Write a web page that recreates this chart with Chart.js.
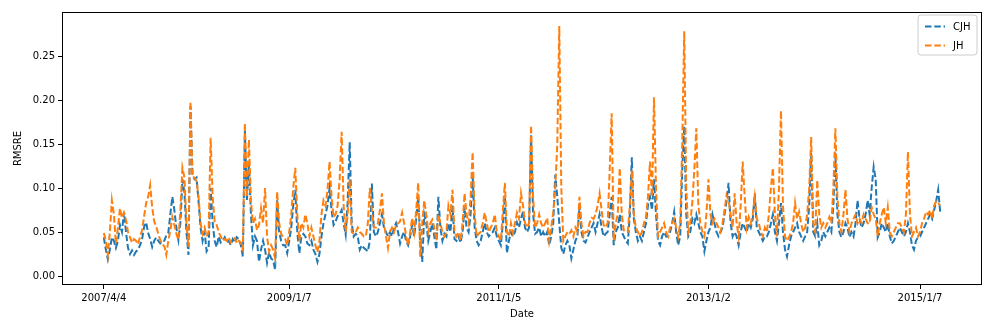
<!DOCTYPE html>
<html><head><meta charset="utf-8">
<script src="https://cdn.jsdelivr.net/npm/chart.js@4"></script>
<style>html,body{margin:0;padding:0;background:#fff;}#wrap{width:997px;height:332px;position:relative;}</style>
</head><body><div id="wrap"><canvas id="c" width="997" height="332"></canvas></div>
<script>
const startDate = '2007/4/4';
const tickLabels = ['2007/4/4','2009/1/7','2011/1/5','2013/1/2','2015/1/7'];
const yTicks = [0, 0.05, 0.10, 0.15, 0.20, 0.25];
const seriesNames = ['CJH', 'JH'];
const cjh = [
.044,.030,.019,.030,.044,.040,.032,.040,.058,.050,
.073,.050,.032,.025,.029,.024,.028,.030,.035,.042,
.056,.061,.049,.042,.033,.040,.044,.040,.037,.040,
.040,.046,.049,.070,.090,.075,.055,.041,.060,.110,
.095,.050,.024,.193,.115,.110,.112,.085,.055,.040,
.050,.028,.032,.100,.060,.040,.033,.045,.038,.040,
.044,.038,.040,.035,.042,.038,.044,.042,.035,.022,
.165,.085,.130,.070,.035,.045,.040,.016,.030,.040,
.030,.015,.027,.020,.018,.007,.086,.050,.040,.035,
.035,.026,.040,.055,.080,.098,.050,.026,.045,.048,
.045,.037,.035,.040,.030,.025,.016,.025,.045,.060,
.070,.080,.100,.075,.058,.062,.068,.070,.075,.060,
.047,.085,.152,.060,.045,.048,.045,.030,.035,.032,
.030,.028,.040,.105,.050,.045,.050,.060,.070,.055,
.050,.045,.050,.045,.055,.060,.050,.037,.045,.050,
.040,.035,.045,.058,.045,.065,.090,.040,.016,.070,
.060,.040,.050,.060,.045,.030,.090,.055,.040,.048,
.045,.060,.050,.080,.042,.040,.045,.038,.050,.078,
.055,.050,.070,.117,.055,.040,.035,.040,.050,.060,
.050,.045,.048,.050,.055,.045,.040,.035,.060,.090,
.026,.040,.050,.045,.050,.061,.055,.065,.073,.055,
.050,.055,.160,.070,.048,.050,.055,.045,.050,.045,
.050,.035,.045,.060,.115,.090,.060,.032,.025,.035,
.040,.035,.020,.030,.040,.045,.080,.050,.040,.038,
.044,.050,.055,.060,.050,.060,.070,.055,.045,.048,
.050,.070,.090,.035,.050,.055,.070,.050,.045,.040,
.037,.070,.135,.065,.050,.040,.045,.040,.050,.060,
.080,.090,.075,.110,.070,.040,.035,.045,.050,.045,
.045,.050,.060,.073,.050,.035,.045,.120,.170,.070,
.045,.050,.065,.060,.070,.060,.050,.045,.028,.040,
.050,.055,.070,.060,.050,.045,.050,.055,.070,.085,
.106,.060,.045,.050,.045,.035,.050,.060,.055,.050,
.060,.055,.065,.094,.055,.050,.045,.040,.045,.045,
.050,.060,.070,.050,.040,.060,.083,.050,.030,.022,
.035,.045,.050,.055,.060,.050,.045,.040,.045,.050,
.080,.140,.050,.045,.060,.035,.040,.050,.045,.050,
.055,.050,.080,.140,.070,.050,.044,.050,.060,.055,
.044,.050,.045,.060,.086,.065,.055,.060,.070,.086,
.070,.100,.124,.110,.044,.050,.060,.055,.050,.060,
.045,.037,.040,.045,.050,.055,.050,.045,.050,.060,
.050,.035,.030,.040,.044,.045,.050,.055,.060,.065,
.070,.065,.075,.085,.098,.073
];
const jh = [
.049,.040,.024,.050,.086,.070,.037,.055,.077,.066,
.072,.064,.050,.044,.038,.042,.040,.036,.045,.052,
.068,.083,.090,.103,.078,.062,.056,.048,.041,.036,
.034,.024,.040,.052,.067,.058,.048,.041,.075,.123,
.112,.060,.033,.198,.112,.112,.108,.090,.060,.048,
.055,.045,.050,.157,.090,.062,.058,.050,.045,.040,
.042,.040,.044,.038,.040,.043,.037,.040,.038,.030,
.174,.090,.155,.085,.060,.065,.052,.058,.077,.060,
.100,.045,.028,.035,.030,.020,.096,.060,.048,.044,
.042,.035,.050,.070,.100,.123,.070,.040,.060,.055,
.070,.060,.045,.055,.045,.035,.027,.040,.070,.086,
.080,.098,.130,.090,.067,.070,.080,.109,.164,.080,
.050,.070,.110,.050,.048,.050,.055,.050,.048,.045,
.045,.060,.100,.075,.055,.055,.060,.075,.094,.060,
.045,.032,.050,.055,.050,.058,.060,.062,.072,.060,
.045,.035,.050,.066,.050,.075,.106,.022,.060,.086,
.070,.050,.060,.064,.055,.040,.070,.060,.050,.045,
.050,.080,.070,.098,.050,.045,.050,.040,.060,.094,
.070,.060,.090,.141,.070,.045,.048,.050,.060,.072,
.060,.050,.055,.060,.070,.050,.045,.040,.075,.106,
.050,.045,.060,.049,.060,.072,.065,.094,.080,.060,
.055,.060,.171,.090,.055,.060,.070,.060,.055,.060,
.066,.040,.055,.073,.100,.150,.284,.100,.040,.045,
.050,.048,.052,.045,.055,.050,.090,.060,.045,.050,
.050,.060,.066,.065,.070,.080,.094,.075,.058,.055,
.060,.120,.185,.040,.060,.070,.123,.070,.052,.050,
.050,.080,.120,.070,.055,.050,.045,.050,.060,.067,
.090,.130,.090,.203,.100,.045,.050,.055,.060,.050,
.045,.055,.060,.065,.055,.045,.060,.150,.278,.100,
.050,.060,.084,.120,.168,.080,.060,.050,.045,.070,
.110,.070,.060,.065,.060,.055,.050,.060,.075,.092,
.086,.070,.055,.094,.060,.045,.080,.130,.090,.055,
.067,.060,.070,.090,.065,.060,.050,.045,.055,.050,
.070,.100,.123,.070,.045,.100,.188,.080,.045,.040,
.044,.050,.060,.083,.065,.073,.060,.050,.055,.070,
.100,.158,.060,.050,.109,.070,.055,.060,.055,.060,
.067,.060,.100,.168,.090,.060,.050,.070,.098,.065,
.050,.060,.065,.070,.060,.065,.060,.070,.065,.060,
.060,.078,.070,.065,.045,.060,.070,.078,.060,.078,
.050,.045,.050,.055,.060,.060,.055,.050,.070,.141,
.070,.045,.050,.055,.045,.050,.060,.065,.073,.070,
.075,.065,.080,.085,.083,.080
];
const colors = ['#1f77b4', '#ff7f0e'];

function parseD(s){ const p = s.split('/').map(Number); return Date.UTC(p[0], p[1]-1, p[2]); }
const t0 = parseD(startDate);
const WEEK = 7*86400000;
const tickIdx = tickLabels.map(s => Math.round((parseD(s) - t0) / WEEK));
const nPts = cjh.length;
const span = nPts - 1;
const toXY = arr => arr.map((v, i) => ({x: i, y: v}));

const FONT = 'DejaVu Sans';
const LW = 2;
const DASH = [6.5, 2.8];

const framePlugin = {
  id: 'frame',
  afterDatasetsDraw(chart) {
    const ctx = chart.ctx, a = chart.chartArea;
    ctx.save();
    ctx.strokeStyle = '#000'; ctx.lineWidth = 1; ctx.setLineDash([]);
    ctx.strokeRect(Math.round(a.left) + 0.5, Math.round(a.top) + 0.5,
                   Math.round(a.right - a.left) - 1, Math.round(a.bottom - a.top) - 1);
    // legend
    const lx = 918, ly = 15, lw = 59, lh = 40, r = 3;
    ctx.beginPath();
    ctx.moveTo(lx + r, ly); ctx.lineTo(lx + lw - r, ly); ctx.quadraticCurveTo(lx + lw, ly, lx + lw, ly + r);
    ctx.lineTo(lx + lw, ly + lh - r); ctx.quadraticCurveTo(lx + lw, ly + lh, lx + lw - r, ly + lh);
    ctx.lineTo(lx + r, ly + lh); ctx.quadraticCurveTo(lx, ly + lh, lx, ly + lh - r);
    ctx.lineTo(lx, ly + r); ctx.quadraticCurveTo(lx, ly, lx + r, ly);
    ctx.closePath();
    ctx.fillStyle = 'rgba(255,255,255,0.8)'; ctx.fill();
    ctx.strokeStyle = '#cccccc'; ctx.stroke();
    ctx.font = '10px "' + FONT + '"';
    ctx.textBaseline = 'middle'; ctx.textAlign = 'left';
    seriesNames.forEach((name, k) => {
      const y = ly + 11 + k * 19;
      ctx.beginPath();
      ctx.setLineDash(DASH);
      ctx.strokeStyle = colors[k]; ctx.lineWidth = LW;
      ctx.moveTo(lx + 7, y + 0.5); ctx.lineTo(lx + 27, y + 0.5); ctx.stroke();
      ctx.setLineDash([]);
      ctx.fillStyle = '#000';
      ctx.fillText(name, lx + 35, y + 1);
    });
    ctx.restore();
  }
};

new Chart(document.getElementById('c'), {
  type: 'line',
  data: {
    datasets: [
      { label: seriesNames[0], data: toXY(cjh), borderColor: colors[0], borderWidth: LW,
        borderDash: DASH, pointRadius: 0, fill: false, tension: 0, order: 2 },
      { label: seriesNames[1], data: toXY(jh), borderColor: colors[1], borderWidth: LW,
        borderDash: DASH, pointRadius: 0, fill: false, tension: 0, order: 1 }
    ]
  },
  options: {
    responsive: false, animation: false, devicePixelRatio: 1,
    layout: { padding: { left: 0, top: 12, right: 15, bottom: 0 } },
    plugins: { legend: { display: false }, tooltip: { enabled: false } },
    scales: {
      x: {
        type: 'linear', min: -0.05 * span, max: span * 1.05,
        afterBuildTicks: s => { s.ticks = tickIdx.map(v => ({ value: v })); },
        afterFit: s => { s.height = 47; },
        ticks: { autoSkip: false, maxRotation: 0, padding: 3, color: '#000',
                 font: { family: FONT, size: 10 },
                 callback: v => { const k = tickIdx.indexOf(v); return k >= 0 ? tickLabels[k] : ''; } },
        grid: { display: true, drawOnChartArea: false, drawTicks: true, tickLength: 4, color: '#000' },
        border: { display: false },
        title: { display: true, text: 'Date', color: '#000', font: { family: FONT, size: 10 },
                 padding: { top: 2, bottom: 12 } }
      },
      y: {
        type: 'linear', min: -0.0102, max: 0.300,
        afterBuildTicks: s => { s.ticks = yTicks.map(v => ({ value: v })); },
        afterFit: s => { s.width = 62; },
        ticks: { padding: 3, color: '#000', font: { family: FONT, size: 10 },
                 callback: v => v.toFixed(2) },
        grid: { display: true, drawOnChartArea: false, drawTicks: true, tickLength: 4, color: '#000' },
        border: { display: false },
        title: { display: true, text: 'RMSRE', color: '#000', font: { family: FONT, size: 10 },
                 padding: { top: 12, bottom: 0 } }
      }
    }
  },
  plugins: [framePlugin]
});
</script>
</body></html>
